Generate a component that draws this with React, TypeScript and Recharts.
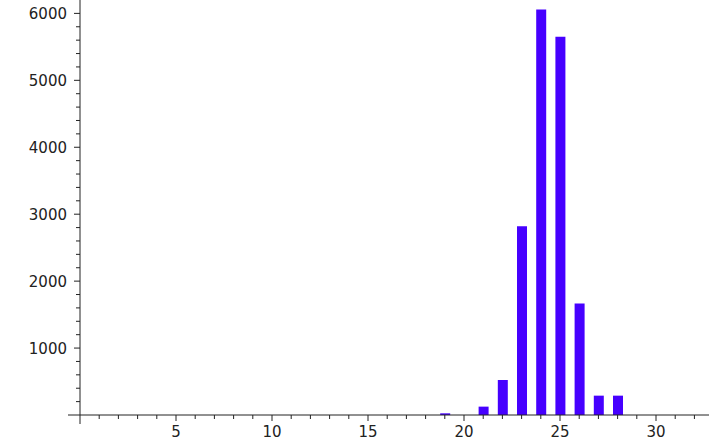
import React from 'react';
import { BarChart, Bar, XAxis, YAxis } from 'recharts';

// bar positions (x) and counts
const positions = [19, 20, 21, 22, 23, 24, 25, 26, 27, 28];
const counts = [25, 0, 125, 523, 2820, 6058, 5650, 1664, 289, 289];

const xTicks = Array.from({ length: 33 }, (_, i) => i);
const yTicks = Array.from({ length: 31 }, (_, i) => i * 200);

const data = positions.map((x, i) => ({ x, count: counts[i] }));

const FONT = '"DejaVu Sans", sans-serif';
const INK = '#222';

const XTick = (props: any) => {
    const { x, y, payload } = props;
    const v = payload.value;
    const major = v % 5 === 0;
    const len = v === 0 ? 9 : major ? 6 : 4;
    return (
        <g>
            <line x1={x} y1={y} x2={x} y2={y + len} stroke={INK} strokeWidth={1} />
            {major && v !== 0 && (
                <text x={x} y={y + 22} textAnchor="middle" fontFamily={FONT} fontSize={15} fill={INK}>
                    {v}
                </text>
            )}
        </g>
    );
};

const YTick = (props: any) => {
    const { x, y, payload } = props;
    const v = payload.value;
    const major = v % 1000 === 0;
    const len = v === 0 ? 12 : major ? 6 : 4;
    return (
        <g>
            <line x1={x - len} y1={y} x2={x} y2={y} stroke={INK} strokeWidth={1} />
            {major && v !== 0 && (
                <text x={x - 13} y={y + 5.5} textAnchor="end" fontFamily={FONT} fontSize={15} fill={INK}>
                    {v}
                </text>
            )}
        </g>
    );
};

const App = () => {
    return (
        <div style={{ position: 'absolute', left: 0, top: 0, background: '#fff' }}>
            <BarChart width={721} height={442} data={data} margin={{ top: 0, right: 12, bottom: 0, left: 0 }}>
                <XAxis
                    type="number"
                    dataKey="x"
                    domain={[0, 32.76]}
                    allowDataOverflow
                    ticks={xTicks}
                    interval={0}
                    height={27}
                    tickSize={0}
                    tickMargin={0}
                    tickLine={false}
                    axisLine={{ stroke: INK }}
                    tick={XTick}
                />
                <YAxis
                    type="number"
                    domain={[0, 6200]}
                    allowDataOverflow
                    ticks={yTicks}
                    interval={0}
                    width={80}
                    tickSize={0}
                    tickMargin={0}
                    tickLine={false}
                    axisLine={{ stroke: INK }}
                    tick={YTick}
                />
                <Bar dataKey="count" fill="#4600ff" barSize={10} isAnimationActive={false} />
            </BarChart>
        </div>
    );
};

export default App;
